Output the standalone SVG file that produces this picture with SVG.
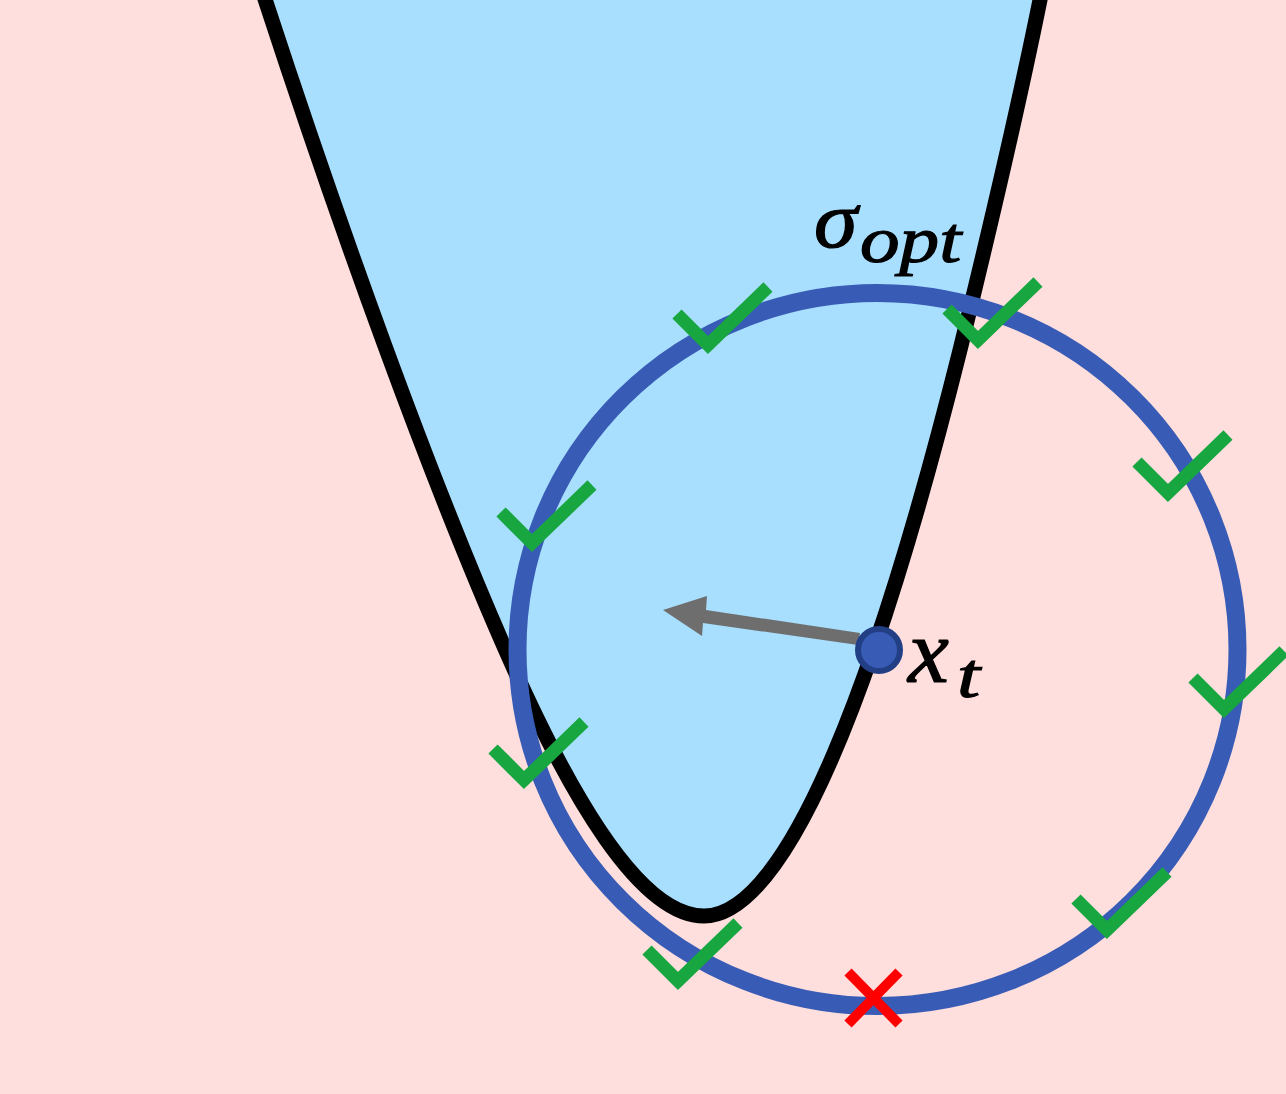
<svg xmlns="http://www.w3.org/2000/svg" width="1286" height="1094" viewBox="0 0 1286 1094">
<style>
.chk{fill:none;stroke:#17a640;stroke-width:13}
.lbl{font-family:"Liberation Serif",serif;font-style:italic;fill:#000;stroke:#000;stroke-width:1.2}
</style>
<defs><path id="c" class="chk" d="M0 0L31 31L91 -27"/></defs>
<rect width="1286" height="1094" fill="#fedfdd"/>
<path id="region" d="M262 -10C337 220 430 480 510 660C570 795 640 916 704 916C790 916 880 670 960 350C992 220 1022 90 1042 -10Z" fill="#a9dffe" stroke="#000" stroke-width="15"/>
<ellipse id="ball" cx="877.5" cy="649.5" rx="360" ry="356.5" fill="none" stroke="#385cb6" stroke-width="18"/>
<path id="arrow" d="M663 610L707 596L706 610L860 633L858 645L703 623L702 636Z" fill="#6e6e6e"/>
<circle id="point" cx="879" cy="650" r="21" fill="#385cb6" stroke="#223f86" stroke-width="6"/>
<g id="checks">
<use href="#c" x="677" y="314"/><use href="#c" x="947" y="309"/><use href="#c" x="1137" y="462"/><use href="#c" x="1193" y="678"/><use href="#c" x="501" y="512"/><use href="#c" x="493" y="749"/><use href="#c" x="647" y="950"/><use href="#c" x="1076" y="899"/>
</g>
<path id="cross" d="M848 972L899 1024M899 972L848 1024" stroke="#fe0000" stroke-width="10" fill="none"/>
<text class="lbl" transform="translate(814 247) scale(1.1 1)" font-size="80">σ</text>
<text class="lbl" transform="translate(860 262) scale(1.2 1)" font-size="66">opt</text>
<text class="lbl" x="908" y="682" font-size="92">x</text>
<text class="lbl" transform="translate(957 697) scale(1.3 1)" font-size="64">t</text>
</svg>
